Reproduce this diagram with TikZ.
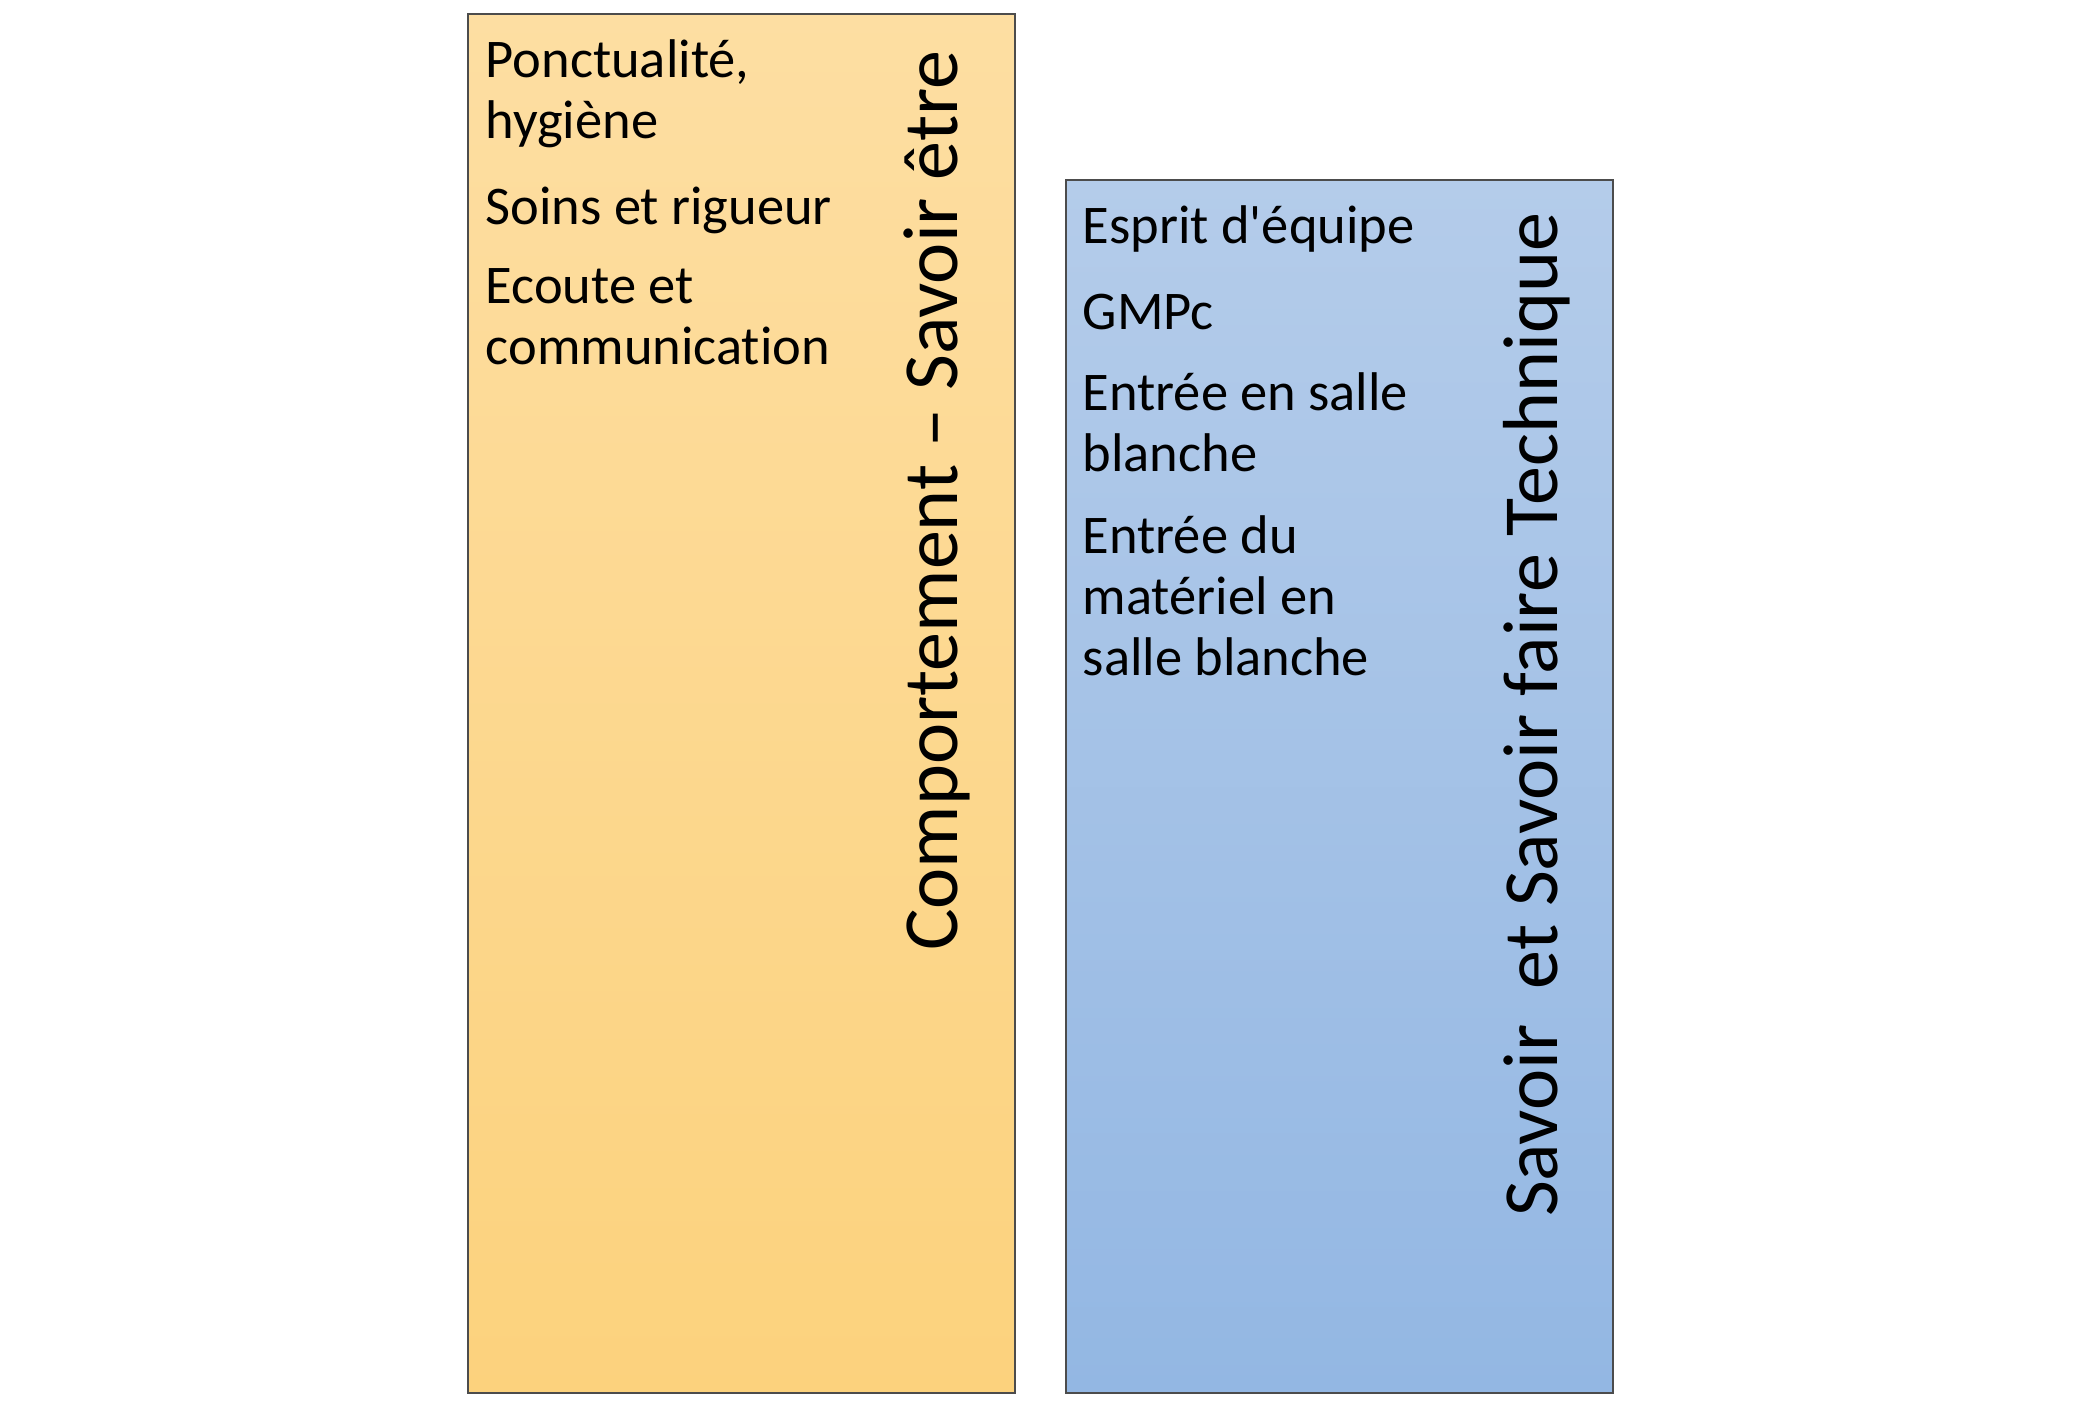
\documentclass[tikz,border=0pt]{standalone}
\usepackage{fontspec}
\newfontfamily\carlito{Carlito}[Ligatures=NoCommon]
\usepackage{tikz}
\usetikzlibrary{positioning,calc}
\definecolor{orangetop}{HTML}{FDDEA2}
\definecolor{orangebot}{HTML}{FCD27D}
\definecolor{bluetop}{HTML}{B4CCEA}
\definecolor{bluebot}{HTML}{93B7E3}

\begin{document}
\begin{tikzpicture}[
    panel/.style={draw=black!70, line width=0.6pt, minimum width=5.47cm, anchor=north west, inner sep=0},
    item/.style={align=left, anchor=north west, inner sep=0, font=\carlito\fontsize{15.5}{17.4}\selectfont,
      execute at begin node=\strut, execute at end node=\strut},
    title/.style={rotate=90, anchor=east, inner sep=0, font=\carlito\fontsize{22.2}{26}\selectfont}
  ]
    \useasboundingbox (0,0) rectangle (20.79,14.01);

    % Comportement - Savoir etre
    \node[panel, minimum height=13.79cm, top color=orangetop, bottom color=orangebot] (cmp) at (4.67,13.88) {};
    \node[title] (cmptitle) at ([shift={(-0.79,-0.37)}]cmp.north east) {Comportement – Savoir être};
    \node[item] (pon) at ([shift={(0.18,-0.26)}]cmp.north west) {Ponctualité,\\hygiène};
    \node[item, below=6.7pt of pon.south west, anchor=north west] (soi) {Soins et rigueur};
    \node[item, below=6.7pt of soi.south west, anchor=north west] (eco) {Ecoute et\\communication};

    % Savoir et Savoir faire Technique
    \node[panel, minimum height=12.13cm, top color=bluetop, bottom color=bluebot] (tec) at (10.65,12.22) {};
    \node[title] (tectitle) at ([shift={(-0.77,-0.33)}]tec.north east) {Savoir\ \ et Savoir faire Technique};
    \node[item] (esp) at ([shift={(0.17,-0.21)}]tec.north west) {Esprit d'équipe};
    \node[item, below=6.7pt of esp.south west, anchor=north west] (gmp) {GMPc};
    \node[item, below=6.7pt of gmp.south west, anchor=north west] (sal) {Entrée en salle\\blanche};
    \node[item, below=6.7pt of sal.south west, anchor=north west] (mat) {Entrée du\\matériel en\\salle blanche};
\end{tikzpicture}
\end{document}
